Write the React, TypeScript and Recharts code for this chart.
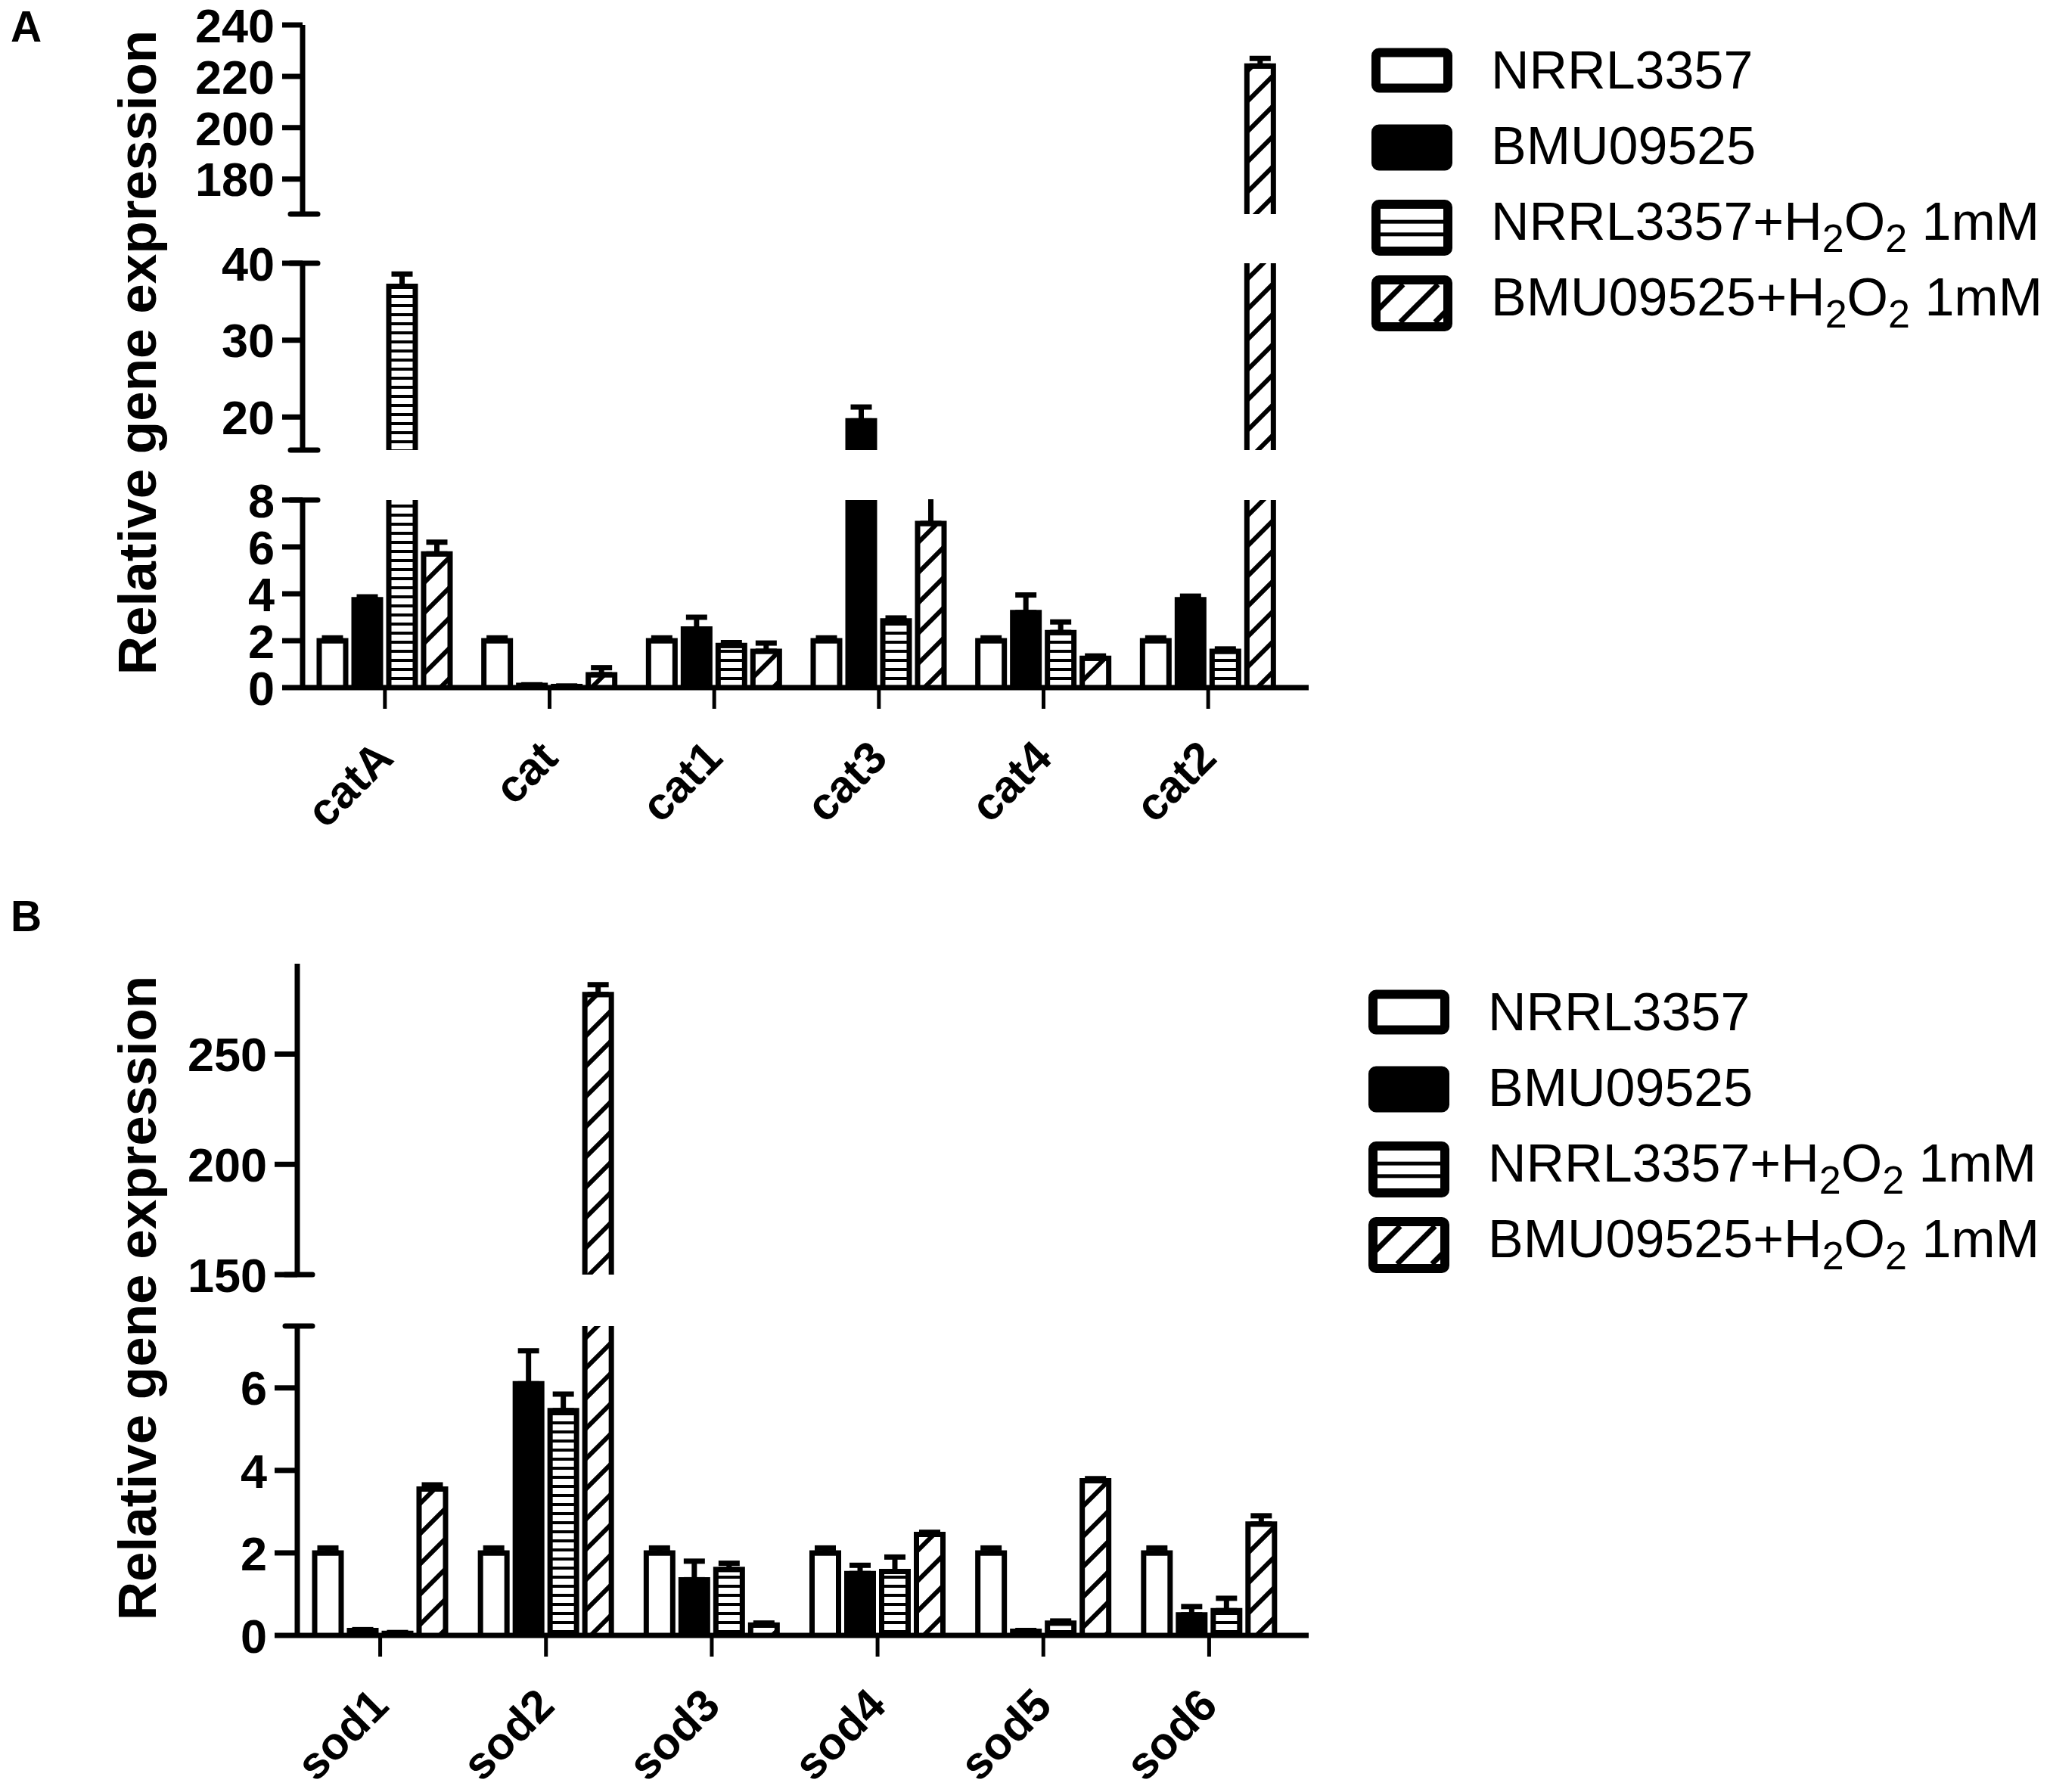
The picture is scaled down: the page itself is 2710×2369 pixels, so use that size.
import React from "react";
import { BarChart, Bar, XAxis, YAxis, ErrorBar } from "recharts";

// Panel A: catalase genes
const catGenes = ["catA", "cat", "cat1", "cat3", "cat4", "cat2"];
const catNrrl = [2, 2, 2, 2, 2, 2];
const catNrrlErr = [0.12, 0.12, 0.12, 0.12, 0.12, 0.12];
const catBmu = [3.75, 0.1, 2.5, 19.5, 3.2, 3.75];
const catBmuErr = [0.12, 0.02, 0.5, 1.8, 0.75, 0.15];
const catNrrlH2o2 = [37, 0.05, 1.8, 2.85, 2.35, 1.55];
const catNrrlH2o2Err = [1.6, 0.02, 0.12, 0.12, 0.45, 0.1];
const catBmuH2o2 = [5.7, 0.55, 1.55, 7.0, 1.25, 224];
const catBmuH2o2Err = [0.5, 0.3, 0.35, 1.5, 0.1, 3];

// Panel B: superoxide dismutase genes
const sodGenes = ["sod1", "sod2", "sod3", "sod4", "sod5", "sod6"];
const sodNrrl = [2, 2, 2, 2, 2, 2];
const sodNrrlErr = [0.12, 0.12, 0.12, 0.12, 0.12, 0.12];
const sodBmu = [0.12, 6.1, 1.35, 1.5, 0.1, 0.5];
const sodBmuErr = [0.02, 0.8, 0.45, 0.2, 0.02, 0.2];
const sodNrrlH2o2 = [0.05, 5.45, 1.6, 1.55, 0.3, 0.6];
const sodNrrlH2o2Err = [0.02, 0.4, 0.15, 0.35, 0.05, 0.3];
const sodBmuH2o2 = [3.55, 277, 0.25, 2.45, 3.75, 2.7];
const sodBmuH2o2Err = [0.1, 4.5, 0.05, 0.05, 0.05, 0.2];

const seriesNames = ["NRRL3357", "BMU09525", "NRRL3357+H2O2 1mM", "BMU09525+H2O2 1mM"];
const seriesFills = ["#fff", "#000", "url(#hl)", "url(#dg)"];

const FONT = "'Liberation Sans', Arial, sans-serif";
const CHART_W = 1760;
const PLOT_RIGHT = 1730;

function segmentRows(genes: string[], values: number[][], errors: number[][], lo: number, hi: number) {
  return genes.map((g, i) => {
    const row: any = { gene: g };
    values.forEach((vals, s) => {
      const v = vals[i];
      row[`s${s}`] = v > lo ? v : null;
      row[`e${s}`] = v > lo && v <= hi ? [0, errors[s][i]] : null;
    });
    return row;
  });
}

const Patterns = () => (
  <defs>
    <pattern id="hl" patternUnits="userSpaceOnUse" width="10" height="12">
      <rect width="10" height="12" fill="#fff" />
      <rect y="8" width="10" height="4" fill="#000" />
    </pattern>
    <pattern id="dg" patternUnits="userSpaceOnUse" width="40" height="40">
      <rect width="40" height="40" fill="#fff" />
      <path d="M-10,10 L10,-10 M0,40 L40,0 M30,50 L50,30" stroke="#000" strokeWidth="6" />
    </pattern>
  </defs>
);

// bar with no bottom edge, so that broken segments stay open
const makeShape = (key: string, fill: string) => (props: any) => {
  const { x, y, width, height, payload } = props;
  if (payload == null || payload[key] == null || height == null || isNaN(height)) return <g />;
  const top = Math.min(y, y + height);
  const bottom = Math.max(y, y + height);
  return (
    <g>
      <rect x={x} y={top} width={width} height={bottom - top} fill={fill} />
      <path
        d={`M${x},${bottom} L${x},${top} L${x + width},${top} L${x + width},${bottom}`}
        fill="none"
        stroke="#000"
        strokeWidth={7}
      />
    </g>
  );
};

const makeYTick = (axisX: number, labelled: number[], lo: number, hi: number, capLo: boolean, capHi: boolean, tickLen: number) =>
  (props: any) => {
    const { y, payload } = props;
    const v = payload.value;
    const lab = labelled.includes(v);
    const cap = (capLo && v === lo) || (capHi && v === hi);
    return (
      <g>
        {lab && <line x1={axisX - tickLen} x2={axisX} y1={y} y2={y} stroke="#000" strokeWidth={7} />}
        {cap && <line x1={axisX - 16} x2={axisX + 20} y1={y} y2={y} stroke="#000" strokeWidth={7} strokeLinecap="round" />}
        {lab && (
          <text x={axisX - tickLen - 10} y={y} dy="0.36em" textAnchor="end" fontSize={63} fontWeight="bold" fontFamily={FONT} fill="#000">
            {v}
          </text>
        )}
      </g>
    );
  };

const XTick = (props: any) => {
  const { x, y, payload } = props;
  const ax = x + 14;
  const ay = y + 68;
  return (
    <text x={ax} y={ay} transform={`rotate(-45 ${ax} ${ay})`} textAnchor="end" fontSize={60} fontWeight="bold" fontFamily={FONT} fill="#000">
      {payload.value}
    </text>
  );
};

type SegProps = {
  genes: string[];
  values: number[][];
  errors: number[][];
  axisW: number;
  plotTop: number;
  plotBottom: number;
  lo: number;
  hi: number;
  ticks: number[];
  labelled: number[];
  capLo: boolean;
  capHi: boolean;
  showX: boolean;
  tickLen: number;
  padRight: number;
};

function Segment(p: SegProps) {
  const mt = 50;
  const mb = p.showX ? 0 : 50;
  const xh = p.showX ? 270 : 0;
  const plotH = p.plotBottom - p.plotTop;
  const rows = segmentRows(p.genes, p.values, p.errors, p.lo, p.hi);
  // error whiskers that run past the top of a broken segment are cut at the break
  const clip = `polygon(0 0, ${p.axisW + 26}px 0, ${p.axisW + 26}px ${mt - 1}px, 100% ${mt - 1}px, 100% 100%, 0 100%)`;
  return (
    <div style={{ position: "absolute", left: 0, top: p.plotTop - mt, clipPath: clip }}>
      <BarChart
        width={CHART_W}
        height={mt + plotH + mb + xh}
        data={rows}
        margin={{ top: mt, right: CHART_W - PLOT_RIGHT, bottom: mb, left: 0 }}
        barSize={35}
        barGap={11}
      >
        <Patterns />
        <XAxis
          dataKey="gene"
          hide={!p.showX}
          height={xh}
          interval={0}
          padding={{ left: 0, right: p.padRight }}
          tickSize={28}
          tickMargin={0}
          axisLine={{ stroke: "#000", strokeWidth: 7 }}
          tickLine={{ stroke: "#000", strokeWidth: 5 }}
          tick={XTick}
        />
        <YAxis
          type="number"
          domain={[p.lo, p.hi]}
          allowDataOverflow
          ticks={p.ticks}
          interval={0}
          width={p.axisW}
          tickSize={p.tickLen}
          tickMargin={10}
          tickLine={false}
          axisLine={{ stroke: "#000", strokeWidth: 7 }}
          tick={makeYTick(p.axisW, p.labelled, p.lo, p.hi, p.capLo, p.capHi, p.tickLen)}
        />
        {seriesNames.map((name, k) => (
          <Bar
            key={name}
            name={name}
            dataKey={`s${k}`}
            fill={seriesFills[k]}
            shape={makeShape(`s${k}`, seriesFills[k])}
            isAnimationActive={false}
          >
            <ErrorBar dataKey={`e${k}`} width={14} stroke="#000" strokeWidth={7} direction="y" />
          </Bar>
        ))}
      </BarChart>
    </div>
  );
}

function LegendText({ x, y, label }: { x: number; y: number; label: string }) {
  const parts = label.split("H2O2");
  return (
    <text x={x} y={y} fontSize={70} fontFamily={FONT} fill="#000">
      {parts[0]}
      {parts.length > 1 && (
        <>
          <tspan>H</tspan>
          <tspan dy={16} fontSize={52}>2</tspan>
          <tspan dy={-16}>O</tspan>
          <tspan dy={16} fontSize={52}>2</tspan>
          <tspan dy={-16}>{parts[1]}</tspan>
        </>
      )}
    </text>
  );
}

function Legend({ dx, dy }: { dx: number; dy: number }) {
  const centers = [93, 195, 301, 401];
  const heights = [59, 61, 74, 74];
  const baselines = [117, 217, 317, 417];
  const bx = 1813 + dx;
  const bw = 107;
  return (
    <g>
      {seriesNames.map((name, k) => {
        const cy = centers[k] + dy;
        const h = heights[k];
        const top = cy - h / 2;
        const ix = bx + 12;
        const iw = bw - 24;
        const iy = top + 12;
        const ih = h - 24;
        return (
          <g key={name}>
            <rect x={bx + 6} y={top + 6} width={bw - 12} height={h - 12} rx={4} fill={k === 1 ? "#000" : "#fff"} stroke="#000" strokeWidth={12} />
            {k === 2 && (
              <>
                <rect x={ix} y={iy + ih / 3 - 2} width={iw} height={5} fill="#000" />
                <rect x={ix} y={iy + (2 * ih) / 3 - 2} width={iw} height={5} fill="#000" />
              </>
            )}
            {k === 3 && (
              <g clipPath={`url(#lgclip${dy})`}>
                <clipPath id={`lgclip${dy}`}>
                  <rect x={ix} y={iy} width={iw} height={ih} />
                </clipPath>
                {[-20, 26, 72].map((o) => (
                  <line key={o} x1={ix + o} y1={iy + ih} x2={ix + o + ih} y2={iy} stroke="#000" strokeWidth={7} />
                ))}
              </g>
            )}
            <LegendText x={1971 + dx} y={baselines[k] + dy} label={name} />
          </g>
        );
      })}
    </g>
  );
}

export default function App(): JSX.Element {
  const catValues = [catNrrl, catBmu, catNrrlH2o2, catBmuH2o2];
  const catErrors = [catNrrlErr, catBmuErr, catNrrlH2o2Err, catBmuH2o2Err];
  const sodValues = [sodNrrl, sodBmu, sodNrrlH2o2, sodBmuH2o2];
  const sodErrors = [sodNrrlErr, sodBmuErr, sodNrrlH2o2Err, sodBmuH2o2Err];
  const a = { genes: catGenes, values: catValues, errors: catErrors, axisW: 400, tickLen: 27, padRight: 24 };
  const b = { genes: sodGenes, values: sodValues, errors: sodErrors, axisW: 393, tickLen: 30, padRight: 22 };
  return (
    <div style={{ position: "absolute", left: 0, top: 0, width: 2710, height: 2369, overflow: "hidden", background: "#fff" }}>
      <Segment {...a} plotTop={33} plotBottom={283} lo={166.4} hi={240} ticks={[166.4, 180, 200, 220, 240]} labelled={[180, 200, 220, 240]} capLo capHi={false} showX={false} />
      <Segment {...a} plotTop={348} plotBottom={595} lo={15.7} hi={40} ticks={[15.7, 20, 30, 40]} labelled={[20, 30, 40]} capLo capHi showX={false} />
      <Segment {...a} plotTop={661} plotBottom={909} lo={0} hi={8} ticks={[0, 2, 4, 6, 8]} labelled={[0, 2, 4, 6, 8]} capLo={false} capHi showX />
      <Segment {...b} plotTop={1274} plotBottom={1685} lo={150} hi={291} ticks={[150, 200, 250]} labelled={[150, 200, 250]} capLo capHi={false} showX={false} />
      <Segment {...b} plotTop={1753} plotBottom={2162} lo={0} hi={7.5} ticks={[0, 2, 4, 6, 7.5]} labelled={[0, 2, 4, 6]} capLo={false} capHi showX />
      <svg width={2710} height={2369} style={{ position: "absolute", left: 0, top: 0, pointerEvents: "none" }}>
        <text x={14} y={55} fontSize={57} fontWeight="bold" fontFamily={FONT}>A</text>
        <text x={14} y={1231} fontSize={57} fontWeight="bold" fontFamily={FONT}>B</text>
        <text x={206} y={466} transform="rotate(-90 206 466)" textAnchor="middle" fontSize={71} fontWeight="bold" fontFamily={FONT}>
          Relative gene expression
        </text>
        <text x={206} y={1716} transform="rotate(-90 206 1716)" textAnchor="middle" fontSize={71} fontWeight="bold" fontFamily={FONT}>
          Relative gene expression
        </text>
        <Legend dx={0} dy={0} />
        <Legend dx={-4} dy={1245} />
      </svg>
    </div>
  );
}
